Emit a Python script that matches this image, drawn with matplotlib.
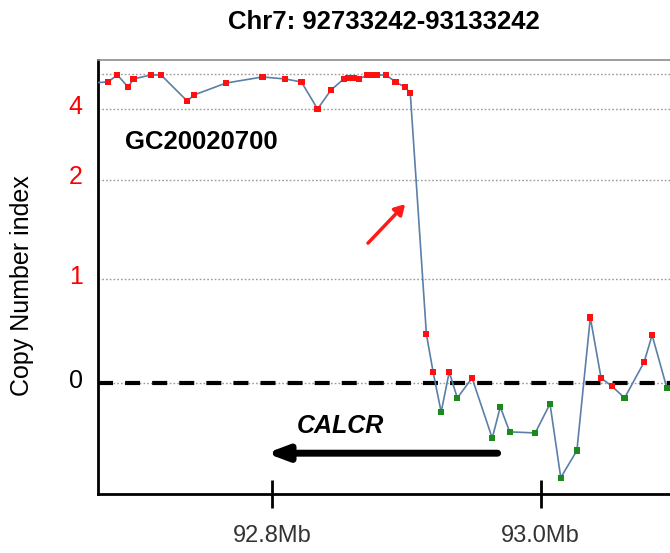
import numpy as np
import matplotlib
matplotlib.use("Agg")
import matplotlib.pyplot as plt
import matplotlib.transforms as mtransforms

plt.rcParams["font.family"] = ["Liberation Sans", "DejaVu Sans"]

# probe positions (Mb) and copy number index
pos_mb = [92.665, 92.678, 92.685, 92.693, 92.697, 92.710, 92.7175, 92.737, 92.742,
          92.766, 92.793, 92.810, 92.822, 92.834, 92.844, 92.8535, 92.857, 92.861,
          92.865, 92.871, 92.875, 92.878, 92.885, 92.892, 92.899, 92.903, 92.915,
          92.920, 92.926, 92.932, 92.938, 92.949, 92.964, 92.970, 92.977, 92.996,
          93.007, 93.015, 93.027, 93.037, 93.045, 93.053, 93.0625, 93.077, 93.083,
          93.094]
cn_index = [6.97, 7.09, 7.89, 6.51, 7.43, 7.89, 7.89, 4.91, 5.60,
            6.97, 7.66, 7.43, 7.09, 4.00, 6.17, 7.43, 7.54, 7.54,
            7.43, 7.89, 7.89, 7.89, 7.89, 7.09, 6.51, 5.83, 0.47,
            0.106, -0.28, 0.106, -0.144, 0.048, -0.53, -0.23, -0.47, -0.48,
            -0.20, -0.91, -0.65, 0.63, 0.048, -0.03, -0.144, 0.20, 0.46,
            -0.05]

y_ticks = [0, 1, 2, 4]
y_tick_colors = ["black", "red", "red", "red"]
grid_levels = [1, 2, 4, 8]
x_ticks = [92.8, 93.0]
x_tick_labels = ["92.8Mb", "93.0Mb"]

# non-linear copy number axis
knot_val = np.array([-5, 0, 1, 2, 4, 8, 16])
knot_pos = np.array([-5.2, 0, 1.04, 2.03, 2.74, 3.09, 3.44])


def fwd(v):
    return np.interp(v, knot_val, knot_pos)


def inv(p):
    return np.interp(p, knot_pos, knot_val)


fig = plt.figure(figsize=(6.7, 5.53), dpi=100)
ax = fig.add_axes([98 / 670, 1 - 494 / 553, 1 - 98 / 670, (494 - 60) / 553])
ax.set_yscale("function", functions=(fwd, inv))
ax.set_xlim(92.6706, 93.0963)
ax.set_ylim(inv(-1.11), inv(3.23))

for g in grid_levels:
    ax.axhline(g, color="#9a9a9a", lw=1.0, ls=(0, (1.2, 1.5)), zorder=1)
ax.axhline(0, color="#9a9a9a", lw=1.0, ls=(0, (1.2, 1.5)), zorder=1)
ax.axhline(0, color="black", lw=3.0, ls=(0, (3.6, 2.9)), zorder=2)

ax.plot(pos_mb, cn_index, color="#5a7fa8", lw=1.2, zorder=3)
cols = ["#ff1010" if v > -0.04 else "#1a8a1a" for v in cn_index]
ax.scatter(pos_mb, cn_index, c=cols, marker="s", s=20, edgecolors="none", zorder=4)

# axes styling
ax.spines["right"].set_visible(False)
ax.spines["top"].set_color("#8c8c8c")
ax.spines["top"].set_linewidth(1.2)
ax.spines["left"].set_linewidth(2)
ax.spines["bottom"].set_linewidth(2)

ax.set_yticks(y_ticks)
ax.set_yticklabels([str(t) for t in y_ticks], fontsize=18)
ax.yaxis.set_minor_locator(plt.NullLocator())
ax.tick_params(axis="y", length=0, pad=11)
offset = mtransforms.ScaledTranslation(0, 5 / 100, fig.dpi_scale_trans)
for lab, c in zip(ax.get_yticklabels(), y_tick_colors):
    lab.set_color(c)
    lab.set_transform(lab.get_transform() + offset)

ax.set_xticks(x_ticks)
ax.set_xticklabels(x_tick_labels, fontsize=17, color="#333333")
ax.tick_params(axis="x", direction="inout", length=20, width=2, pad=12)

ax.set_ylabel("Copy Number index", fontsize=18)
ax.yaxis.set_label_coords(-0.112, 0.48)

fig.text(0.573, 0.96, "Chr7: 92733242-93133242", ha="center", va="center",
         fontsize=18.5, fontweight="bold")

ax.text(0.048, 0.812, "GC20020700", transform=ax.transAxes, fontsize=18.5,
        fontweight="bold", va="center", ha="left")

# gene annotation
ax.text(92.851, -0.41, "CALCR", fontsize=18, fontweight="bold", style="italic",
        ha="center", va="center")
ax.annotate("", xy=(92.796, -0.675), xytext=(92.968, -0.675),
            arrowprops=dict(arrowstyle="-|>,head_length=1.2,head_width=0.45",
                            color="black", lw=5, shrinkA=0, shrinkB=0))

# breakpoint arrow
ax.annotate("", xy=(0.537, 0.668), xytext=(0.472, 0.578), xycoords="axes fraction",
            arrowprops=dict(arrowstyle="-|>,head_length=0.6,head_width=0.35",
                            color="#ff1a1a", lw=2.5, shrinkA=0, shrinkB=0))

fig.savefig("out.png", dpi=100)
